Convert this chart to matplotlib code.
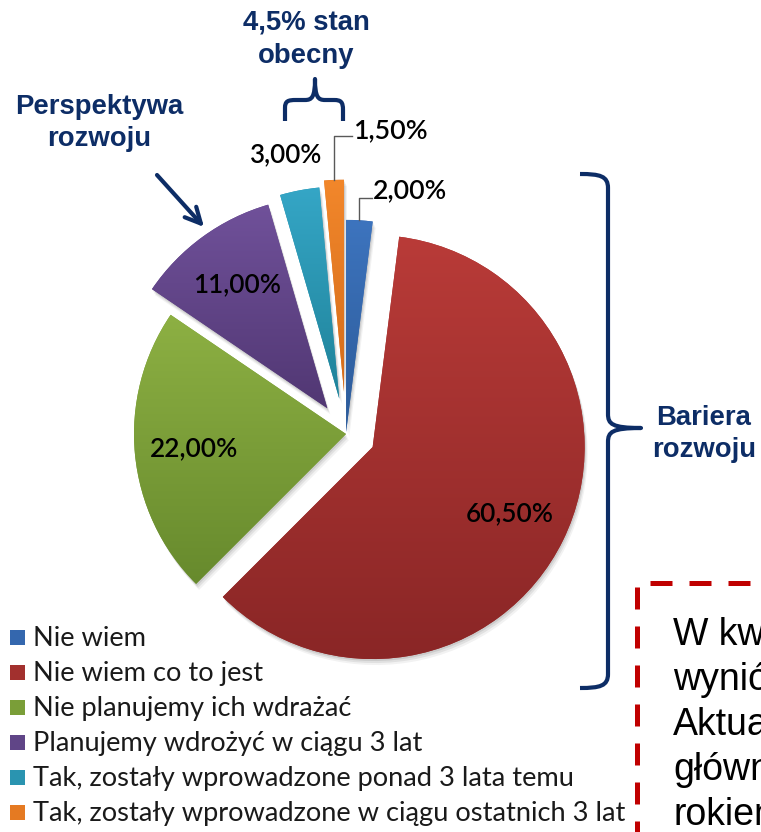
import numpy as np
import matplotlib
matplotlib.use("Agg")
import matplotlib.pyplot as plt
from matplotlib.patches import Rectangle, PathPatch, Wedge
from matplotlib.path import Path
from matplotlib.colors import LinearSegmentedColormap

# ---------------- data ----------------
categories = [
    "Nie wiem",
    "Nie wiem co to jest",
    "Nie planujemy ich wdrażać",
    "Planujemy wdrożyć w ciągu 3 lat",
    "Tak, zostały wprowadzone ponad 3 lata temu",
    "Tak, zostały wprowadzone w ciągu ostatnich 3 lat",
]
values = [2.0, 60.5, 22.0, 11.0, 3.0, 1.5]
value_labels = ["2,00%", "60,50%", "22,00%", "11,00%", "3,00%", "1,50%"]
explode_frac = [0.01, 0.14, 0.0, 0.15, 0.17, 0.20]

top_colors = ["#3D74BE", "#B93B38", "#8DB043", "#70519A", "#35A6C6", "#F2872B"]
bot_colors = ["#2C5A98", "#8A2626", "#678A2D", "#513773", "#1F8299", "#D46C1A"]
mid_colors = ["#3467AE", "#A2302E", "#7A9E38", "#604587", "#2A94B0", "#E57A22"]

box_lines = ["W kw", "wynió", "Aktua", "główn", "rokiem"]

W, H = 761, 832
NAVY = "#0D2D66"

fig = plt.figure(figsize=(W / 100, H / 100), dpi=100)
ax = fig.add_axes([0, 0, 1, 1])


def Y(y):
    return H - y


R = 212
cx, cy = 346, Y(434)
explode = [f * R for f in explode_frac]

wedges, _ = ax.pie(values, colors=mid_colors, startangle=90, counterclock=False,
                   explode=explode, radius=R, center=(cx, cy), frame=True,
                   wedgeprops=dict(linewidth=0, zorder=2))

# soft shadow
for w in wedges:
    x0, y0 = w.center
    for k, a in zip([6, 4, 2], [0.05, 0.07, 0.09]):
        s = Wedge((x0 + k * 0.5, y0 - k), w.r, w.theta1, w.theta2,
                  facecolor="black", alpha=a, linewidth=0, zorder=1)
        ax.add_patch(s)

# gradient fill per wedge
for w, ct, cb in zip(wedges, top_colors, bot_colors):
    ext = w.get_path().get_extents()
    cmap = LinearSegmentedColormap.from_list("g", [cb, ct])
    grad = np.linspace(0, 1, 256).reshape(-1, 1)
    im = ax.imshow(grad, cmap=cmap, origin="lower", aspect="auto",
                   extent=(ext.x0, ext.x1, ext.y0, ext.y1), zorder=2.5,
                   interpolation="bilinear")
    im.set_clip_path(w)

renderer = fig.canvas.get_renderer()


def fit(t, width):
    wpx = t.get_window_extent(renderer).width
    t.set_fontsize(t.get_fontsize() * width / wpx)
    return t


LBL_FONT = "Lato"
LBL_W = "semibold"

# inner labels (large wedges)
inner = {1: 88, 2: 88, 3: 88}
for i, wd in inner.items():
    w = wedges[i]
    mid = np.deg2rad((w.theta1 + w.theta2) / 2)
    x0, y0 = w.center
    t = ax.text(x0 + 0.72 * R * np.cos(mid), y0 + 0.72 * R * np.sin(mid),
                value_labels[i], ha="center", va="center", fontsize=18,
                family=LBL_FONT, weight=LBL_W, color="black", zorder=5)
    fit(t, wd)


def outer_point(w):
    mid = np.deg2rad((w.theta1 + w.theta2) / 2)
    x0, y0 = w.center
    return x0 + R * np.cos(mid), y0 + R * np.sin(mid)


# teal 3,00% label
t = ax.text(286, Y(155), value_labels[4], ha="center", va="center",
            fontsize=18, family=LBL_FONT, weight=LBL_W, zorder=5)
fit(t, 72)

# orange 1,50% with leader
ox, oy = outer_point(wedges[5])
ax.plot([ox, ox, 352], [oy, Y(136), Y(136)], color="#595959", lw=1.0, zorder=4)
t = ax.text(353, Y(131), value_labels[5], ha="left", va="center",
            fontsize=18, family=LBL_FONT, weight=LBL_W, zorder=5)
fit(t, 75)

# blue 2,00% with leader
bx, by = outer_point(wedges[0])
ax.plot([bx, bx, 372], [by, Y(198), Y(198)], color="#595959", lw=1.0, zorder=4)
t = ax.text(373, Y(191), value_labels[0], ha="left", va="center",
            fontsize=18, family=LBL_FONT, weight=LBL_W, zorder=5)
fit(t, 74)

# ---------------- legend ----------------
leg_texts = []
for k, (lab, col) in enumerate(zip(categories, mid_colors)):
    base = 646 + 35 * k
    ax.add_patch(Rectangle((10, Y(base - 1)), 15, 15, facecolor=col,
                           edgecolor="none", zorder=5))
    leg_texts.append(ax.text(33, Y(base), lab, ha="left", va="baseline",
                             fontsize=18, family=LBL_FONT, color="#1a1a1a",
                             zorder=5))
fit(leg_texts[-1], 592)
for t in leg_texts:
    t.set_fontsize(leg_texts[-1].get_fontsize())

# ---------------- annotations ----------------
AR = "Liberation Sans"
h0 = ax.text(99, Y(107), "Perspektywa", ha="center", va="center",
             fontsize=19, family=AR, weight="bold", color=NAVY)
fit(h0, 168)
fs_h = h0.get_fontsize()
ax.text(99, Y(139), "rozwoju", ha="center", va="center",
        fontsize=fs_h, family=AR, weight="bold", color=NAVY)
ax.text(306, Y(23), "4,5% stan", ha="center", va="center",
        fontsize=fs_h, family=AR, weight="bold", color=NAVY)
ax.text(306, Y(56), "obecny", ha="center", va="center",
        fontsize=fs_h, family=AR, weight="bold", color=NAVY)
ax.text(704, Y(418), "Bariera", ha="center", va="center",
        fontsize=fs_h, family=AR, weight="bold", color=NAVY)
ax.text(704, Y(450), "rozwoju", ha="center", va="center",
        fontsize=fs_h, family=AR, weight="bold", color=NAVY)

# arrow
ax.annotate("", xy=(204, Y(227)), xytext=(157, Y(175)),
            arrowprops=dict(arrowstyle="->", lw=3, color=NAVY,
                            mutation_scale=28, shrinkA=0, shrinkB=0))


def P(x, y):
    return (x, Y(y))


# top brace
verts = [P(285, 121), P(285, 108),
         P(285, 101), P(288, 100), P(296, 100),
         P(305, 100),
         P(312, 100), P(315, 97), P(315, 79),
         P(315, 97), P(318, 100), P(325, 100),
         P(334, 100),
         P(341, 100), P(343, 102), P(343, 110),
         P(343, 121)]
codes = [Path.MOVETO, Path.LINETO,
         Path.CURVE4, Path.CURVE4, Path.CURVE4,
         Path.LINETO,
         Path.CURVE4, Path.CURVE4, Path.CURVE4,
         Path.CURVE4, Path.CURVE4, Path.CURVE4,
         Path.LINETO,
         Path.CURVE4, Path.CURVE4, Path.CURVE4,
         Path.LINETO]
ax.add_patch(PathPatch(Path(verts, codes), facecolor="none", edgecolor=NAVY,
                       lw=3, capstyle="butt", joinstyle="round"))

# right brace
verts = [P(580, 174),
         P(600, 174), P(608, 176), P(608, 188),
         P(608, 414),
         P(608, 424), P(612, 428), P(641, 428),
         P(612, 428), P(608, 432), P(608, 442),
         P(608, 674),
         P(608, 686), P(600, 688), P(580, 688)]
codes = [Path.MOVETO,
         Path.CURVE4, Path.CURVE4, Path.CURVE4,
         Path.LINETO,
         Path.CURVE4, Path.CURVE4, Path.CURVE4,
         Path.CURVE4, Path.CURVE4, Path.CURVE4,
         Path.LINETO,
         Path.CURVE4, Path.CURVE4, Path.CURVE4]
ax.add_patch(PathPatch(Path(verts, codes), facecolor="none", edgecolor=NAVY,
                       lw=3, capstyle="butt", joinstyle="round"))

# dashed red box (dash ~22px, gap ~17px; lw 5px = 3.6pt)
RED = "#C00000"
lw_pt = 3.6
dash = (0, (22 * 0.72 / lw_pt, 17 * 0.72 / lw_pt))
ax.plot([650, W + 5], [Y(583), Y(583)], color=RED, lw=lw_pt,
        linestyle=dash, dash_capstyle="butt")
ax.plot([637, 637], [Y(587), Y(H + 5)], color=RED, lw=lw_pt,
        linestyle=dash, dash_capstyle="butt")

for k, s in enumerate(box_lines):
    ax.text(673, Y(645 + 45 * k), s, ha="left", va="baseline",
            fontsize=27, family=AR, color="black")

ax.set_xlim(0, W)
ax.set_ylim(0, H)
ax.set_aspect("auto")
ax.axis("off")

fig.savefig("out.png", dpi=100)
